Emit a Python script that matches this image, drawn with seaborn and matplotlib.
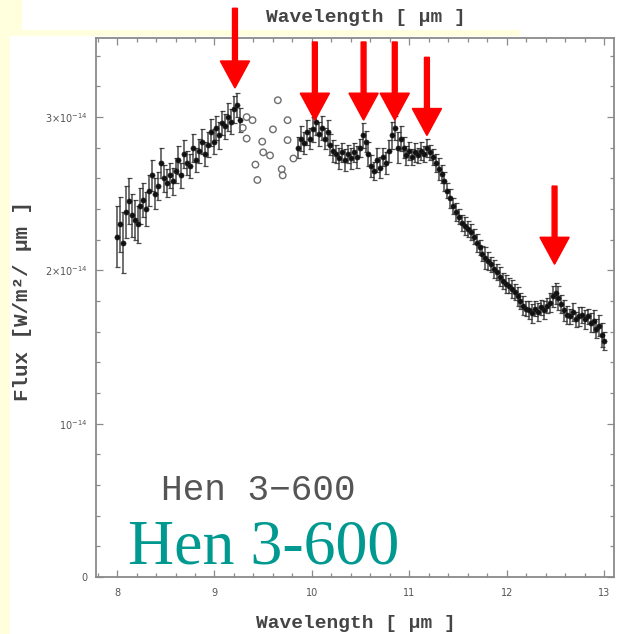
import matplotlib
matplotlib.use("Agg")
import matplotlib.pyplot as plt
from matplotlib.patches import Rectangle, FancyArrow
import seaborn as sns
import pandas as pd

# ---- spectrum of Hen 3-600 (flux in units of 1e-14 W/m^2/um) ----
wl_blue = [8.00, 8.03, 8.06, 8.09, 8.12, 8.15, 8.18, 8.21, 8.24, 8.27,
           8.30, 8.33, 8.36, 8.39, 8.42, 8.45, 8.48, 8.51, 8.54, 8.57,
           8.60, 8.63, 8.66, 8.69, 8.72, 8.75, 8.78, 8.81, 8.84, 8.87,
           8.90, 8.93, 8.96, 8.99, 9.02, 9.05, 9.08, 9.11, 9.14, 9.17,
           9.20, 9.23, 9.26]
flux_blue = [2.22, 2.30, 2.18, 2.38, 2.45, 2.36, 2.33, 2.30, 2.42, 2.46,
             2.40, 2.52, 2.62, 2.50, 2.55, 2.70, 2.60, 2.57, 2.62, 2.58,
             2.65, 2.72, 2.62, 2.76, 2.70, 2.68, 2.80, 2.72, 2.78, 2.84,
             2.76, 2.82, 2.90, 2.84, 2.93, 2.88, 2.96, 2.94, 3.00, 2.97,
             3.05, 3.08, 2.98]
err_blue = [0.20, 0.18, 0.20, 0.17, 0.15, 0.14, 0.13, 0.12, 0.12, 0.11,
            0.11, 0.10, 0.10, 0.10, 0.09, 0.10, 0.09, 0.09, 0.08, 0.09,
            0.08, 0.09, 0.08, 0.09, 0.08, 0.08, 0.09, 0.08, 0.08, 0.08,
            0.08, 0.08, 0.09, 0.08, 0.08, 0.09, 0.08, 0.08, 0.09, 0.08,
            0.09, 0.08, 0.08]

wl_red = [9.86, 9.89, 9.92, 9.95, 9.98, 10.01, 10.04, 10.07, 10.10, 10.13,
          10.16, 10.19, 10.22, 10.25, 10.28, 10.31, 10.34, 10.37, 10.40, 10.43,
          10.46, 10.49, 10.52, 10.55, 10.58, 10.61, 10.64, 10.67, 10.70, 10.73,
          10.76, 10.79, 10.82, 10.85, 10.88, 10.91, 10.94, 10.97, 11.00, 11.03,
          11.06, 11.09, 11.12, 11.15, 11.18, 11.21, 11.24, 11.27, 11.30, 11.33,
          11.36, 11.39, 11.42, 11.45, 11.48, 11.51, 11.54, 11.57, 11.60, 11.63,
          11.66, 11.69, 11.72, 11.75, 11.78, 11.81, 11.84, 11.87, 11.90, 11.93,
          11.96, 11.99, 12.02, 12.05, 12.08, 12.11, 12.14, 12.17, 12.20, 12.23,
          12.26, 12.29, 12.32, 12.35, 12.38, 12.41, 12.44, 12.47, 12.50, 12.53,
          12.56, 12.59, 12.62, 12.65, 12.68, 12.71, 12.74, 12.77, 12.80, 12.83,
          12.86, 12.89, 12.92, 12.95, 12.98, 13.00]
flux_red = [2.80, 2.86, 2.83, 2.90, 2.86, 2.92, 2.97, 2.89, 2.93, 2.86,
            2.90, 2.82, 2.78, 2.76, 2.73, 2.77, 2.72, 2.76, 2.73, 2.77,
            2.74, 2.80, 2.88, 2.84, 2.76, 2.68, 2.65, 2.72, 2.67, 2.74,
            2.70, 2.78, 2.88, 2.93, 2.80, 2.86, 2.80, 2.75, 2.78, 2.74,
            2.77, 2.75, 2.78, 2.76, 2.80, 2.77, 2.74, 2.70, 2.66, 2.63,
            2.58, 2.52, 2.47, 2.42, 2.38, 2.35, 2.31, 2.29, 2.27, 2.25,
            2.22, 2.18, 2.15, 2.11, 2.08, 2.06, 2.04, 2.01, 1.99, 1.96,
            1.93, 1.91, 1.90, 1.88, 1.86, 1.83, 1.80, 1.77, 1.75, 1.74,
            1.72, 1.75, 1.73, 1.76, 1.74, 1.77, 1.79, 1.83, 1.85, 1.82,
            1.78, 1.74, 1.71, 1.70, 1.73, 1.68, 1.70, 1.71, 1.68, 1.70,
            1.66, 1.67, 1.62, 1.64, 1.58, 1.54]
err_red = [0.07, 0.08, 0.07, 0.08, 0.07, 0.08, 0.09, 0.08, 0.08, 0.07,
           0.08, 0.07, 0.07, 0.06, 0.07, 0.06, 0.07, 0.06, 0.07, 0.06,
           0.07, 0.06, 0.08, 0.07, 0.08, 0.07, 0.06, 0.08, 0.07, 0.06,
           0.07, 0.07, 0.09, 0.08, 0.10, 0.08, 0.07, 0.06, 0.06, 0.05,
           0.06, 0.05, 0.06, 0.05, 0.06, 0.05, 0.05, 0.06, 0.07, 0.06,
           0.06, 0.05, 0.06, 0.05, 0.06, 0.05, 0.05, 0.06, 0.05, 0.05,
           0.05, 0.06, 0.05, 0.05, 0.07, 0.06, 0.05, 0.06, 0.05, 0.06,
           0.05, 0.06, 0.05, 0.06, 0.05, 0.06, 0.05, 0.06, 0.05, 0.06,
           0.06, 0.05, 0.06, 0.05, 0.06, 0.05, 0.06, 0.07, 0.07, 0.08,
           0.06, 0.07, 0.06, 0.05, 0.06, 0.05, 0.06, 0.05, 0.06, 0.05,
           0.06, 0.07, 0.06, 0.07, 0.08, 0.06]

# points inside the telluric ozone band (flagged, drawn as open circles)
wl_flag = [9.29, 9.33, 9.33, 9.39, 9.42, 9.44, 9.49, 9.50, 9.57, 9.60,
           9.65, 9.69, 9.70, 9.75, 9.75, 9.81]
flux_flag = [2.93, 3.00, 2.86, 2.98, 2.69, 2.59, 2.84, 2.77, 2.75, 2.92,
             3.11, 2.66, 2.62, 2.98, 2.85, 2.73]

# emission features marked with arrows: wavelength, arrow top, arrow tip
feat_wl = [9.21, 10.03, 10.53, 10.85, 11.18, 12.49]
feat_top = [3.71, 3.49, 3.49, 3.49, 3.39, 2.55]
feat_tip = [3.19, 2.98, 2.98, 2.98, 2.88, 2.04]

y_ticks = [0, 1, 2, 3]
y_ticklabels = ["0", r"$10^{-14}$", r"$2{\times}10^{-14}$", r"$3{\times}10^{-14}$"]
x_ticks = [8, 9, 10, 11, 12, 13]

good = pd.DataFrame({"wl": wl_blue + wl_red,
                     "flux": flux_blue + flux_red,
                     "err": err_blue + err_red})
flagged = pd.DataFrame({"wl": wl_flag, "flux": flux_flag})

sns.set_style("ticks")
plt.rcParams["font.family"] = ["DejaVu Sans"]
plt.rcParams["mathtext.fontset"] = "dejavusans"

W, H = 619, 634
fig = plt.figure(figsize=(W / 100, H / 100), dpi=100)
fig.patch.set_facecolor("#FFFFDE")

def px_rect(x0, y0, x1, y1, color):
    fig.add_artist(Rectangle((x0 / W, 1 - y1 / H), (x1 - x0) / W, (y1 - y0) / H,
                             transform=fig.transFigure, facecolor=color,
                             edgecolor="none", zorder=-5))

# white slide panels
px_rect(22, 0, W, 30, "white")
px_rect(10, 36, W, H, "white")
px_rect(520, 30, W, 36, "white")

ax = fig.add_axes([96 / W, 1 - 577 / H, (614 - 96) / W, (577 - 38) / H])
ax.set_facecolor("white")

ax.errorbar(good["wl"], good["flux"], yerr=good["err"], fmt="none",
            ecolor="#2a2a2a", elinewidth=1.1, capsize=1.8, capthick=0.9,
            alpha=0.85, zorder=2)
sns.scatterplot(data=good, x="wl", y="flux", ax=ax, color="#111111",
                s=14, edgecolor="#222222", linewidth=0.4, zorder=3, legend=False)
sns.scatterplot(data=flagged, x="wl", y="flux", ax=ax, facecolor="none",
                edgecolor="#6e6e6e", s=22, linewidth=1.0, zorder=3, legend=False)

for x, top, tip in zip(feat_wl, feat_top, feat_tip):
    ax.add_patch(FancyArrow(x, top, 0, tip - top, width=0.05, head_width=0.30,
                            head_length=0.176, length_includes_head=True,
                            color="#ff0000", clip_on=False, zorder=6))

ax.set_xlim(7.784, 13.10)
ax.set_ylim(0, 3.516)
ax.set_xticks(x_ticks)
ax.set_xticklabels([str(t) for t in x_ticks])
ax.set_xticks([v / 5 for v in range(39, 66)], minor=True)
ax.set_yticks(y_ticks)
ax.set_yticklabels(y_ticklabels)
ax.set_yticks([v / 5 for v in range(0, 18)], minor=True)
ax.set_xlabel("")
ax.set_ylabel("")

for s in ax.spines.values():
    s.set_visible(True)
    s.set_color("#8a8a8a")
    s.set_linewidth(1.3)
ax.tick_params(which="both", direction="in", top=True, right=True,
               color="#8a8a8a", width=0.9)
ax.tick_params(which="major", length=5, labelsize=7, labelcolor="#555555")
ax.tick_params(which="minor", length=3)
ax.tick_params(axis="x", which="major", pad=8)
ax.tick_params(axis="y", which="major", pad=6)

mono = ["Liberation Mono", "DejaVu Sans Mono"]
fig.text(356 / W, 1 - 623 / H, "Wavelength [ μm ]", ha="center", va="center",
         fontsize=14, fontweight="bold", family=mono, color="#444444")
fig.text(366 / W, 1 - 17 / H, "Wavelength [ μm ]", ha="center", va="center",
         fontsize=14, fontweight="bold", family=mono, color="#444444")
fig.text(22 / W, 1 - 301 / H, "Flux [W/m²/ μm ]", ha="center", va="center",
         rotation=90, fontsize=15, fontweight="bold", family=mono, color="#444444")

fig.text(258 / W, 1 - 500 / H, "Hen 3\u2212600", ha="center", va="baseline",
         fontsize=26, family=mono, color="#555555")
fig.text(128 / W, 1 - 563 / H, "Hen 3-600", ha="left", va="baseline",
         fontsize=46, family=["Liberation Serif", "DejaVu Serif"], color="#009990")

fig.savefig("out.png", dpi=100, facecolor=fig.get_facecolor())
